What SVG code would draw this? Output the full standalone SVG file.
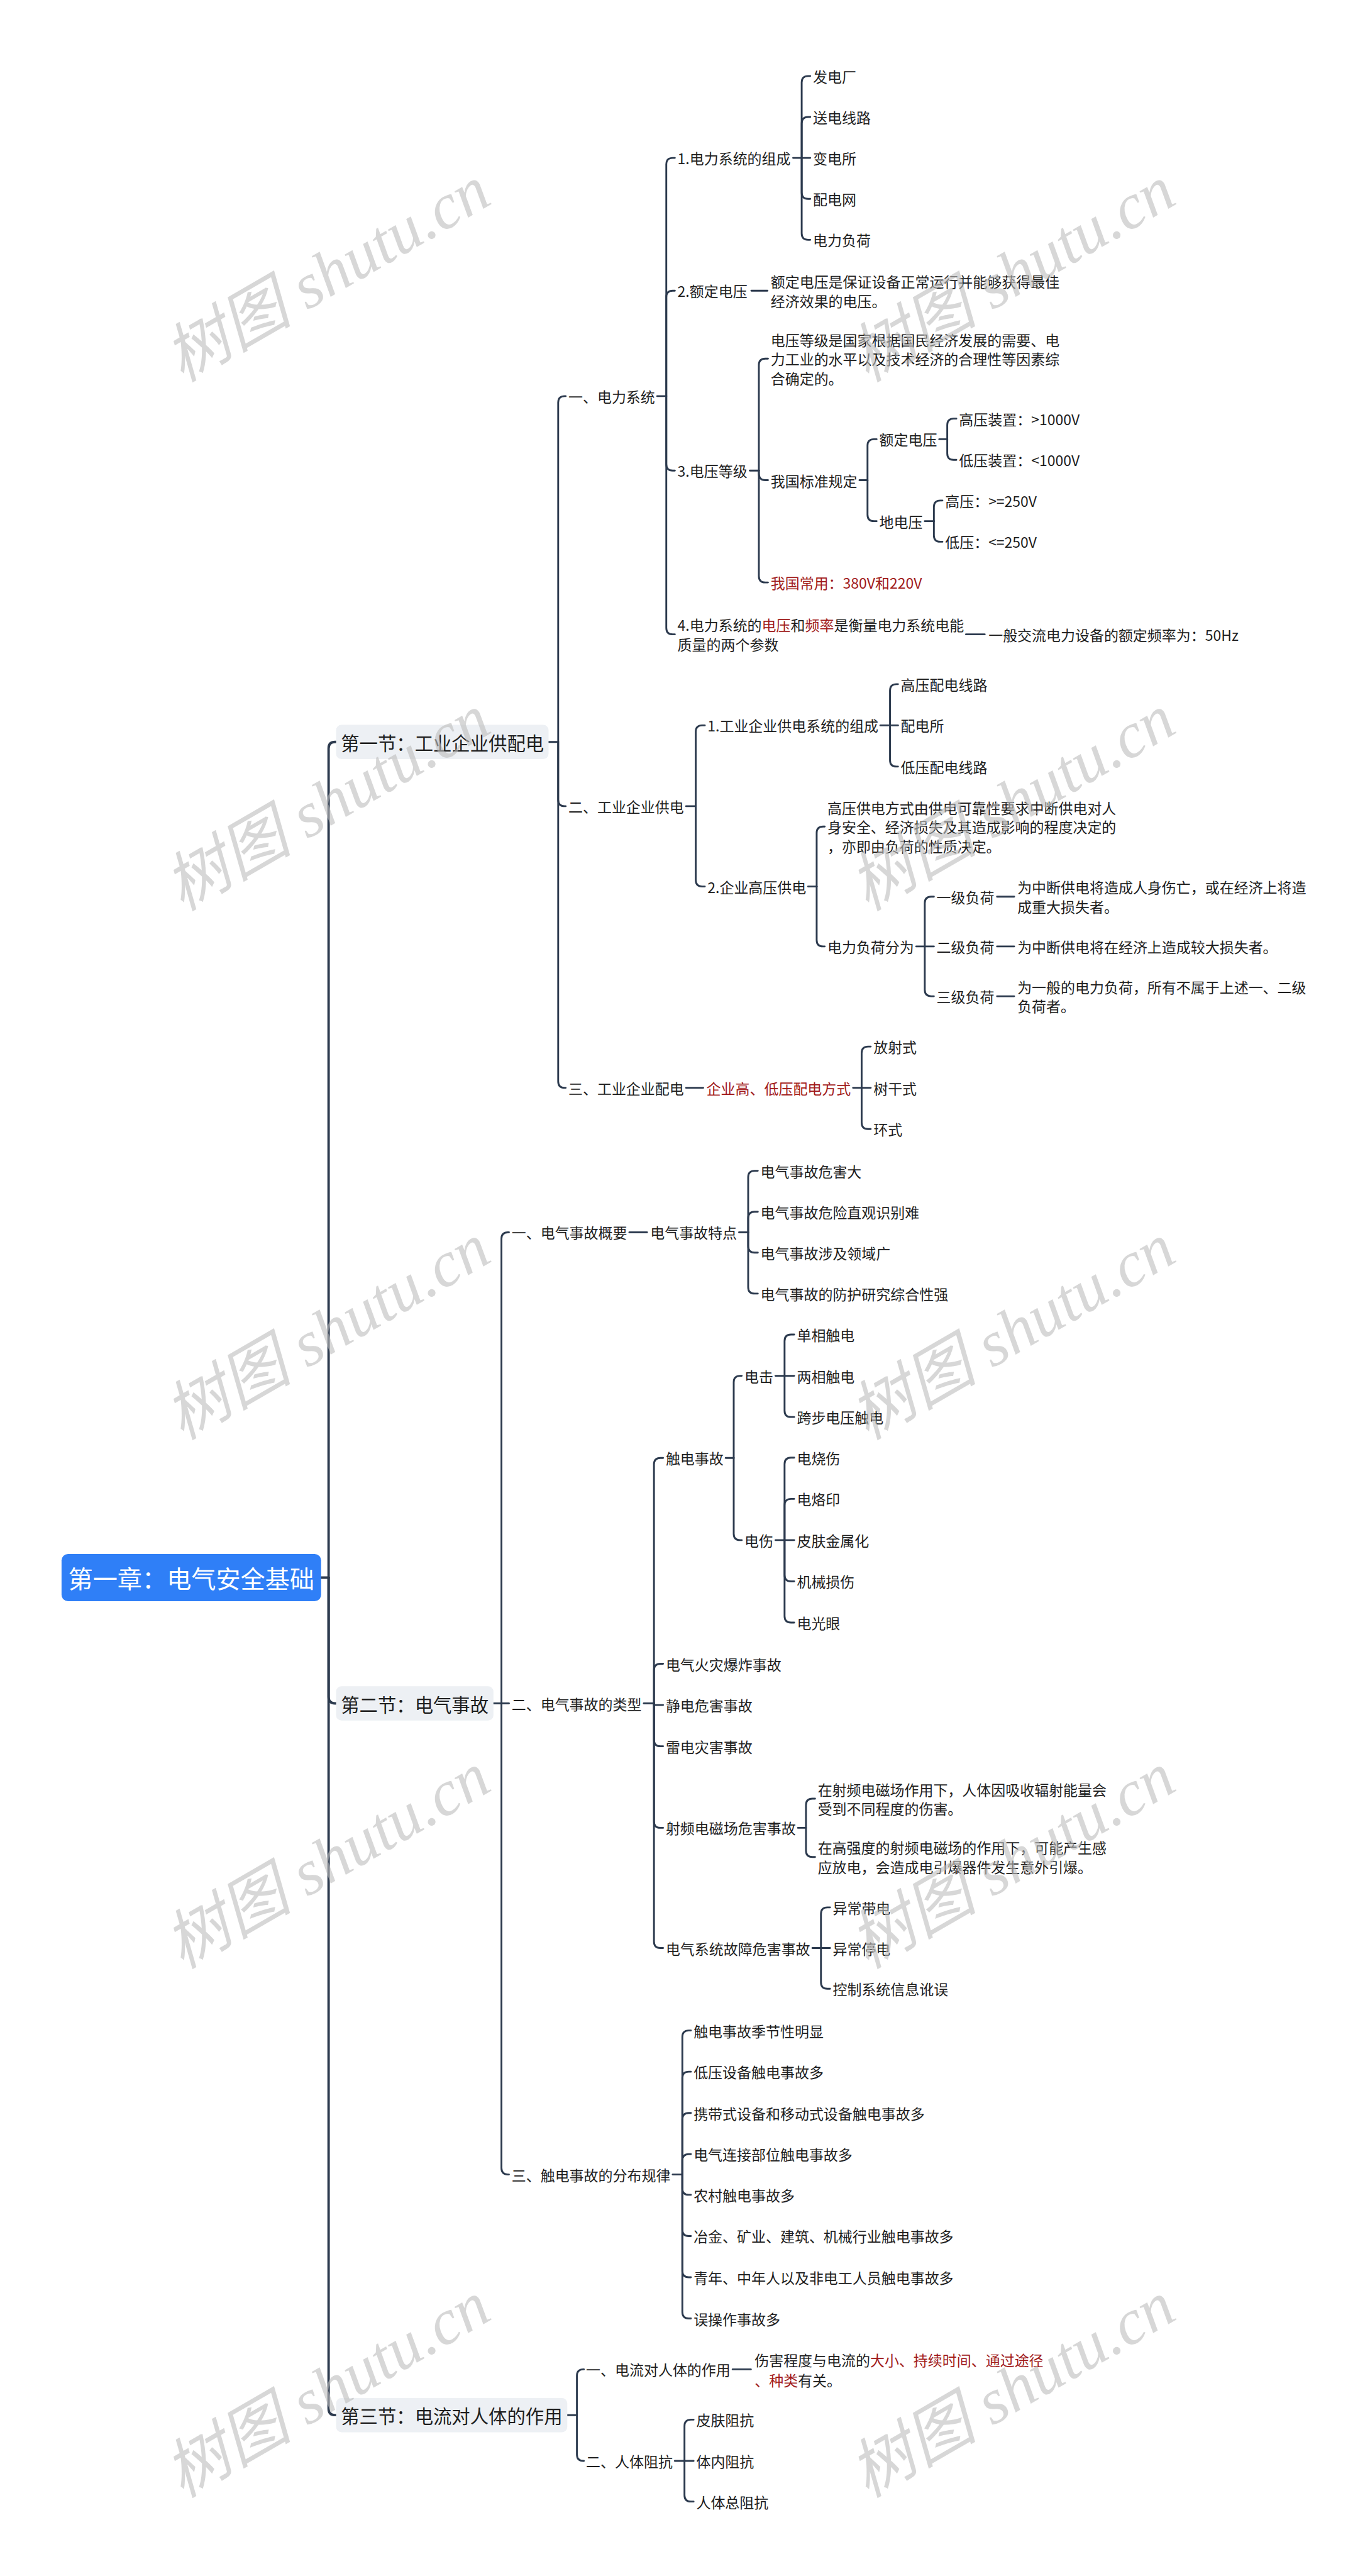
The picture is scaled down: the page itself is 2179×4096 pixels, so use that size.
<svg xmlns="http://www.w3.org/2000/svg" width="2179" height="4096" viewBox="0 0 2179 4096">
<style>
.t{font-family:"Noto Sans CJK SC","Noto Sans",sans-serif;font-size:27px;fill:#1e1e1e;dominant-baseline:central}
.r{fill:#a11a1a}
.sec{font-size:34.5px}
.root{font-size:46px;fill:#ffffff;text-anchor:middle}
.c path{fill:none;stroke:#2c3a4e;stroke-width:3.4;stroke-linecap:round}
.c .k path{stroke-width:4.5}
.box{fill:#edf0f4}
.wm{font-family:"Liberation Serif","Noto Sans CJK SC",serif;font-style:italic;font-size:120px;fill:#bdbdbd;opacity:0.6}
</style>
<rect width="2179" height="4096" fill="#ffffff"/>
<g transform="scale(0.8512)">
<g id="connectors" class="c">
<g class="k">
<path d="M600 2947 H614"/>
<path d="M614 2947 V1398 Q614 1386 626 1386 H628"/>
<path d="M614 2947 V3170 Q614 3182 626 3182 H628"/>
<path d="M614 2947 V4499.5 Q614 4511.5 626 4511.5 H628"/>
</g>
<path d="M1025 1386 H1043"/>
<path d="M1043 1386 V752 Q1043 740 1055 740 H1057"/>
<path d="M1043 1386 V1494 Q1043 1506 1055 1506 H1057"/>
<path d="M1043 1386 V2020 Q1043 2032 1055 2032 H1057"/>
<path d="M1228 740 H1245"/>
<path d="M1245 740 V307 Q1245 295 1257 295 H1261"/>
<path d="M1245 740 V555 Q1245 543 1257 543 H1261"/>
<path d="M1245 740 V867 Q1245 879 1257 879 H1261"/>
<path d="M1245 740 V1173 Q1245 1185 1257 1185 H1261"/>
<path d="M1482 295 H1514"/>
<path d="M1498 295 V154 Q1498 142 1510 142 H1514"/>
<path d="M1498 295 V230.5 Q1498 218.5 1510 218.5 H1514"/>
<path d="M1498 295 V359.5 Q1498 371.5 1510 371.5 H1514"/>
<path d="M1498 295 V436 Q1498 448 1510 448 H1514"/>
<path d="M1404 543 H1434"/>
<path d="M1401 879 H1418"/>
<path d="M1418 879 V682 Q1418 670 1430 670 H1435"/>
<path d="M1418 879 V885 Q1418 897 1430 897 H1435"/>
<path d="M1418 879 V1076 Q1418 1088 1430 1088 H1435"/>
<path d="M1606 897 H1621"/>
<path d="M1621 897 V832.5 Q1621 820.5 1633 820.5 H1638"/>
<path d="M1621 897 V961.5 Q1621 973.5 1633 973.5 H1638"/>
<path d="M1755 820.5 H1770"/>
<path d="M1770 820.5 V794 Q1770 782 1782 782 H1787"/>
<path d="M1770 820.5 V847 Q1770 859 1782 859 H1787"/>
<path d="M1728 973.5 H1745"/>
<path d="M1745 973.5 V947 Q1745 935 1757 935 H1761"/>
<path d="M1745 973.5 V1000 Q1745 1012 1757 1012 H1761"/>
<path d="M1805 1185 H1840"/>
<path d="M1282 1506 H1300"/>
<path d="M1300 1506 V1367 Q1300 1355 1312 1355 H1317"/>
<path d="M1300 1506 V1644 Q1300 1656 1312 1656 H1317"/>
<path d="M1645 1355 H1678"/>
<path d="M1663 1355 V1290 Q1663 1278 1675 1278 H1678"/>
<path d="M1663 1355 V1420 Q1663 1432 1675 1432 H1678"/>
<path d="M1510 1656 H1526"/>
<path d="M1526 1656 V1556 Q1526 1544 1538 1544 H1541"/>
<path d="M1526 1656 V1756 Q1526 1768 1538 1768 H1541"/>
<path d="M1712 1768 H1745"/>
<path d="M1728 1768 V1687 Q1728 1675 1740 1675 H1745"/>
<path d="M1728 1768 V1849 Q1728 1861 1740 1861 H1745"/>
<path d="M1863 1675 H1895"/>
<path d="M1863 1768 H1895"/>
<path d="M1863 1861 H1895"/>
<path d="M1282 2032 H1314"/>
<path d="M1594 2032 H1627"/>
<path d="M1610 2032 V1967 Q1610 1955 1622 1955 H1627"/>
<path d="M1610 2032 V2097 Q1610 2109 1622 2109 H1627"/>
<path d="M922 3182 H951"/>
<path d="M937 3182 V2314 Q937 2302 949 2302 H951"/>
<path d="M937 3182 V4050 Q937 4062 949 4062 H951"/>
<path d="M1176 2302 H1209"/>
<path d="M1381 2302 H1398"/>
<path d="M1398 2302 V2199 Q1398 2187 1410 2187 H1416"/>
<path d="M1398 2302 V2275.5 Q1398 2263.5 1410 2263.5 H1416"/>
<path d="M1398 2302 V2328 Q1398 2340 1410 2340 H1416"/>
<path d="M1398 2302 V2404.5 Q1398 2416.5 1410 2416.5 H1416"/>
<path d="M1203 3182 H1222"/>
<path d="M1222 3182 V2735.5 Q1222 2723.5 1234 2723.5 H1239"/>
<path d="M1222 3182 V3120 Q1222 3108 1234 3108 H1239"/>
<path d="M1222 3182 V3185 H1239"/>
<path d="M1222 3182 V3250 Q1222 3262 1234 3262 H1239"/>
<path d="M1222 3182 V3402.5 Q1222 3414.5 1234 3414.5 H1239"/>
<path d="M1222 3182 V3627 Q1222 3639 1234 3639 H1239"/>
<path d="M1356 2723.5 H1371"/>
<path d="M1371 2723.5 V2582 Q1371 2570 1383 2570 H1386"/>
<path d="M1371 2723.5 V2865 Q1371 2877 1383 2877 H1386"/>
<path d="M1449 2570 H1484"/>
<path d="M1466 2570 V2505 Q1466 2493 1478 2493 H1484"/>
<path d="M1466 2570 V2635 Q1466 2647 1478 2647 H1484"/>
<path d="M1449 2877 H1484"/>
<path d="M1466 2877 V2735 Q1466 2723 1478 2723 H1484"/>
<path d="M1466 2877 V2812 Q1466 2800 1478 2800 H1484"/>
<path d="M1466 2877 V2942 Q1466 2954 1478 2954 H1484"/>
<path d="M1466 2877 V3019 Q1466 3031 1478 3031 H1484"/>
<path d="M1491 3414.5 H1506"/>
<path d="M1506 3414.5 V3372 Q1506 3360 1518 3360 H1523"/>
<path d="M1506 3414.5 V3457 Q1506 3469 1518 3469 H1523"/>
<path d="M1518 3639 H1551"/>
<path d="M1534 3639 V3575 Q1534 3563 1546 3563 H1551"/>
<path d="M1534 3639 V3703 Q1534 3715 1546 3715 H1551"/>
<path d="M1257 4062 H1275"/>
<path d="M1275 4062 V3805 Q1275 3793 1287 3793 H1291"/>
<path d="M1275 4062 V3882 Q1275 3870 1287 3870 H1291"/>
<path d="M1275 4062 V3959 Q1275 3947 1287 3947 H1291"/>
<path d="M1275 4062 V4036 Q1275 4024 1287 4024 H1291"/>
<path d="M1275 4062 V4088 Q1275 4100 1287 4100 H1291"/>
<path d="M1275 4062 V4165 Q1275 4177 1287 4177 H1291"/>
<path d="M1275 4062 V4242 Q1275 4254 1287 4254 H1291"/>
<path d="M1275 4062 V4319 Q1275 4331 1287 4331 H1291"/>
<path d="M1060 4511.5 H1078"/>
<path d="M1078 4511.5 V4438 Q1078 4426 1090 4426 H1091"/>
<path d="M1078 4511.5 V4585 Q1078 4597 1090 4597 H1091"/>
<path d="M1369 4426 H1403"/>
<path d="M1261 4597 H1296"/>
<path d="M1279 4597 V4532 Q1279 4520 1291 4520 H1296"/>
<path d="M1279 4597 V4661 Q1279 4673 1291 4673 H1296"/>
</g>

<g id="root"><rect x="115" y="2903" width="485" height="88" rx="12" fill="#2f7ff7"/><text class="t root" x="357.5" y="2947">第一章：电气安全基础</text></g>

<g id="s1"><rect class="box" x="628" y="1354" width="397" height="64" rx="10"/><text class="t sec" x="637" y="1386">第一节：工业企业供配电</text></g>
<g id="s2"><rect class="box" x="628" y="3150" width="294" height="64" rx="10"/><text class="t sec" x="637" y="3182">第二节：电气事故</text></g>
<g id="s3"><rect class="box" x="628" y="4479.5" width="432" height="64" rx="10"/><text class="t sec" x="637" y="4511.5">第三节：电流对人体的作用</text></g>

<g id="n1"><text class="t" x="1062" y="740">一、电力系统</text></g>
<g id="n1-1"><text class="t" x="1266" y="295">1.电力系统的组成</text></g>
<g id="n1-1-1"><text class="t" x="1519" y="142">发电厂</text></g>
<g id="n1-1-2"><text class="t" x="1519" y="218.5">送电线路</text></g>
<g id="n1-1-3"><text class="t" x="1519" y="295">变电所</text></g>
<g id="n1-1-4"><text class="t" x="1519" y="371.5">配电网</text></g>
<g id="n1-1-5"><text class="t" x="1519" y="448">电力负荷</text></g>
<g id="n1-2"><text class="t" x="1266" y="543">2.额定电压</text></g>
<g id="n1-2-1"><text class="t" x="1440"><tspan x="1440" y="525">额定电压是保证设备正常运行并能够获得最佳</tspan><tspan x="1440" y="561">经济效果的电压。</tspan></text></g>
<g id="n1-3"><text class="t" x="1266" y="879">3.电压等级</text></g>
<g id="n1-3-1"><text class="t" x="1440"><tspan x="1440" y="634">电压等级是国家根据国民经济发展的需要、电</tspan><tspan x="1440" y="670">力工业的水平以及技术经济的合理性等因素综</tspan><tspan x="1440" y="706">合确定的。</tspan></text></g>
<g id="n1-3-2"><text class="t" x="1440" y="897">我国标准规定</text></g>
<g id="n1-3-2-1"><text class="t" x="1643" y="820.5">额定电压</text></g>
<g id="n1-3-2-1-1"><text class="t" x="1792" y="782">高压装置：&gt;1000V</text></g>
<g id="n1-3-2-1-2"><text class="t" x="1792" y="859">低压装置：&lt;1000V</text></g>
<g id="n1-3-2-2"><text class="t" x="1643" y="973.5">地电压</text></g>
<g id="n1-3-2-2-1"><text class="t" x="1766" y="935">高压：&gt;=250V</text></g>
<g id="n1-3-2-2-2"><text class="t" x="1766" y="1012">低压：&lt;=250V</text></g>
<g id="n1-3-3"><text class="t r" x="1440" y="1088">我国常用：380V和220V</text></g>
<g id="n1-4"><text class="t" x="1266"><tspan x="1266" y="1167">4.电力系统的<tspan class="r">电压</tspan>和<tspan class="r">频率</tspan>是衡量电力系统电能</tspan><tspan x="1266" y="1203">质量的两个参数</tspan></text></g>
<g id="n1-4-1"><text class="t" x="1847" y="1185">一般交流电力设备的额定频率为：50Hz</text></g>

<g id="n2"><text class="t" x="1062" y="1506">二、工业企业供电</text></g>
<g id="n2-1"><text class="t" x="1322" y="1355">1.工业企业供电系统的组成</text></g>
<g id="n2-1-1"><text class="t" x="1683" y="1278">高压配电线路</text></g>
<g id="n2-1-2"><text class="t" x="1683" y="1355">配电所</text></g>
<g id="n2-1-3"><text class="t" x="1683" y="1432">低压配电线路</text></g>
<g id="n2-2"><text class="t" x="1322" y="1656">2.企业高压供电</text></g>
<g id="n2-2-1"><text class="t" x="1546"><tspan x="1546" y="1508">高压供电方式由供电可靠性要求中断供电对人</tspan><tspan x="1546" y="1544">身安全、经济损失及其造成影响的程度决定的</tspan><tspan x="1546" y="1580">，亦即由负荷的性质决定。</tspan></text></g>
<g id="n2-2-2"><text class="t" x="1546" y="1768">电力负荷分为</text></g>
<g id="n2-2-2-1"><text class="t" x="1750" y="1675">一级负荷</text></g>
<g id="n2-2-2-1-1"><text class="t" x="1901"><tspan x="1901" y="1657">为中断供电将造成人身伤亡，或在经济上将造</tspan><tspan x="1901" y="1693">成重大损失者。</tspan></text></g>
<g id="n2-2-2-2"><text class="t" x="1750" y="1768">二级负荷</text></g>
<g id="n2-2-2-2-1"><text class="t" x="1901" y="1768">为中断供电将在经济上造成较大损失者。</text></g>
<g id="n2-2-2-3"><text class="t" x="1750" y="1861">三级负荷</text></g>
<g id="n2-2-2-3-1"><text class="t" x="1901"><tspan x="1901" y="1843">为一般的电力负荷，所有不属于上述一、二级</tspan><tspan x="1901" y="1879">负荷者。</tspan></text></g>

<g id="n3"><text class="t" x="1062" y="2032">三、工业企业配电</text></g>
<g id="n3-1"><text class="t r" x="1320" y="2032">企业高、低压配电方式</text></g>
<g id="n3-1-1"><text class="t" x="1632" y="1955">放射式</text></g>
<g id="n3-1-2"><text class="t" x="1632" y="2032">树干式</text></g>
<g id="n3-1-3"><text class="t" x="1632" y="2109">环式</text></g>

<g id="m1"><text class="t" x="956" y="2302">一、电气事故概要</text></g>
<g id="m1-1"><text class="t" x="1215" y="2302">电气事故特点</text></g>
<g id="m1-1-1"><text class="t" x="1421" y="2187">电气事故危害大</text></g>
<g id="m1-1-2"><text class="t" x="1421" y="2263.5">电气事故危险直观识别难</text></g>
<g id="m1-1-3"><text class="t" x="1421" y="2340">电气事故涉及领域广</text></g>
<g id="m1-1-4"><text class="t" x="1421" y="2416.5">电气事故的防护研究综合性强</text></g>

<g id="m2"><text class="t" x="956" y="3182">二、电气事故的类型</text></g>
<g id="m2-1"><text class="t" x="1244" y="2723.5">触电事故</text></g>
<g id="m2-1-1"><text class="t" x="1391" y="2570">电击</text></g>
<g id="m2-1-1-1"><text class="t" x="1489" y="2493">单相触电</text></g>
<g id="m2-1-1-2"><text class="t" x="1489" y="2570">两相触电</text></g>
<g id="m2-1-1-3"><text class="t" x="1489" y="2647">跨步电压触电</text></g>
<g id="m2-1-2"><text class="t" x="1391" y="2877">电伤</text></g>
<g id="m2-1-2-1"><text class="t" x="1489" y="2723">电烧伤</text></g>
<g id="m2-1-2-2"><text class="t" x="1489" y="2800">电烙印</text></g>
<g id="m2-1-2-3"><text class="t" x="1489" y="2877">皮肤金属化</text></g>
<g id="m2-1-2-4"><text class="t" x="1489" y="2954">机械损伤</text></g>
<g id="m2-1-2-5"><text class="t" x="1489" y="3031">电光眼</text></g>
<g id="m2-2"><text class="t" x="1244" y="3108">电气火灾爆炸事故</text></g>
<g id="m2-3"><text class="t" x="1244" y="3185">静电危害事故</text></g>
<g id="m2-4"><text class="t" x="1244" y="3262">雷电灾害事故</text></g>
<g id="m2-5"><text class="t" x="1244" y="3414.5">射频电磁场危害事故</text></g>
<g id="m2-5-1"><text class="t" x="1528"><tspan x="1528" y="3342">在射频电磁场作用下，人体因吸收辐射能量会</tspan><tspan x="1528" y="3378">受到不同程度的伤害。</tspan></text></g>
<g id="m2-5-2"><text class="t" x="1528"><tspan x="1528" y="3451">在高强度的射频电磁场的作用下，可能产生感</tspan><tspan x="1528" y="3487">应放电，会造成电引爆器件发生意外引爆。</tspan></text></g>
<g id="m2-6"><text class="t" x="1244" y="3639">电气系统故障危害事故</text></g>
<g id="m2-6-1"><text class="t" x="1556" y="3563">异常带电</text></g>
<g id="m2-6-2"><text class="t" x="1556" y="3639">异常停电</text></g>
<g id="m2-6-3"><text class="t" x="1556" y="3715">控制系统信息讹误</text></g>

<g id="m3"><text class="t" x="956" y="4062">三、触电事故的分布规律</text></g>
<g id="m3-1"><text class="t" x="1296" y="3793">触电事故季节性明显</text></g>
<g id="m3-2"><text class="t" x="1296" y="3870">低压设备触电事故多</text></g>
<g id="m3-3"><text class="t" x="1296" y="3947">携带式设备和移动式设备触电事故多</text></g>
<g id="m3-4"><text class="t" x="1296" y="4024">电气连接部位触电事故多</text></g>
<g id="m3-5"><text class="t" x="1296" y="4100">农村触电事故多</text></g>
<g id="m3-6"><text class="t" x="1296" y="4177">冶金、矿业、建筑、机械行业触电事故多</text></g>
<g id="m3-7"><text class="t" x="1296" y="4254">青年、中年人以及非电工人员触电事故多</text></g>
<g id="m3-8"><text class="t" x="1296" y="4331">误操作事故多</text></g>

<g id="p1"><text class="t" x="1095" y="4426">一、电流对人体的作用</text></g>
<g id="p1-1"><text class="t" x="1410"><tspan x="1410" y="4408">伤害程度与电流的<tspan class="r">大小、持续时间、通过途径</tspan></tspan><tspan x="1410" y="4445"><tspan class="r">、种类</tspan>有关。</tspan></text></g>
<g id="p2"><text class="t" x="1095" y="4597">二、人体阻抗</text></g>
<g id="p2-1"><text class="t" x="1301" y="4520">皮肤阻抗</text></g>
<g id="p2-2"><text class="t" x="1301" y="4597">体内阻抗</text></g>
<g id="p2-3"><text class="t" x="1301" y="4673">人体总阻抗</text></g>

<g id="watermark">
<text class="wm" transform="translate(340 715) rotate(-30)">树图 shutu.cn</text>
<text class="wm" transform="translate(1620 715) rotate(-30)">树图 shutu.cn</text>
<text class="wm" transform="translate(340 1703) rotate(-30)">树图 shutu.cn</text>
<text class="wm" transform="translate(1620 1703) rotate(-30)">树图 shutu.cn</text>
<text class="wm" transform="translate(340 2691) rotate(-30)">树图 shutu.cn</text>
<text class="wm" transform="translate(1620 2691) rotate(-30)">树图 shutu.cn</text>
<text class="wm" transform="translate(340 3679) rotate(-30)">树图 shutu.cn</text>
<text class="wm" transform="translate(1620 3679) rotate(-30)">树图 shutu.cn</text>
<text class="wm" transform="translate(340 4667) rotate(-30)">树图 shutu.cn</text>
<text class="wm" transform="translate(1620 4667) rotate(-30)">树图 shutu.cn</text>
</g>
</g>
</svg>
